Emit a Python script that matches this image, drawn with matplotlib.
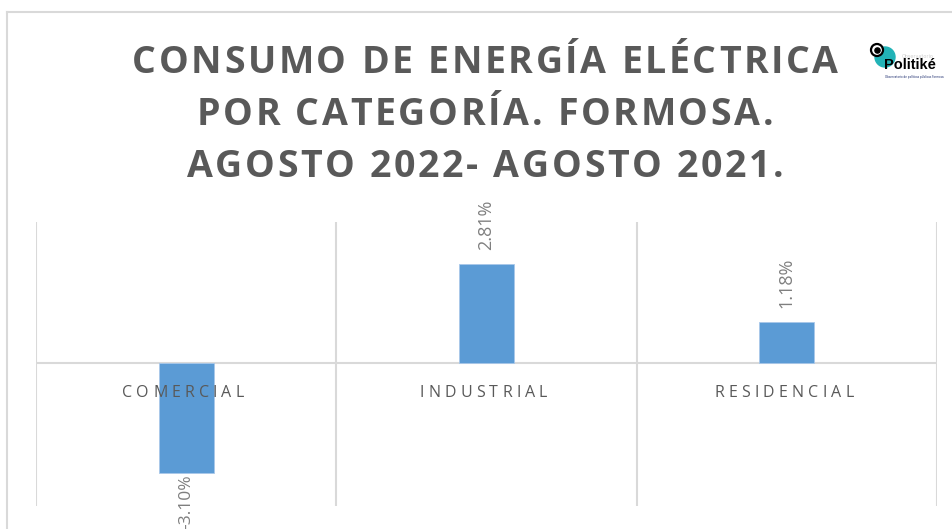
import matplotlib.pyplot as plt
from matplotlib.font_manager import FontProperties, findfont
from matplotlib.ft2font import FT2Font
from matplotlib.patches import Circle
from matplotlib.lines import Line2D

# Data
categories = ["COMERCIAL", "INDUSTRIAL", "RESIDENCIAL"]
values = [-3.10, 2.81, 1.18]
value_labels = ["-3.10%", "2.81%", "1.18%"]
title_lines = ["CONSUMO DE ENERGÍA ELÉCTRICA",
               "POR CATEGORÍA. FORMOSA.",
               "AGOSTO 2022- AGOSTO 2021."]

W, H = 952, 529
fig = plt.figure(figsize=(W / 100, H / 100), dpi=100)
fig.patch.set_facecolor("white")


def advances(s, size, weight="normal", family="Open Sans"):
    fp = FontProperties(family=family, weight=weight)
    font = FT2Font(findfont(fp))
    font.set_size(size, 72)
    return [font.load_char(ord(c)).linearHoriAdvance / 65536 for c in s]


def spaced_text(ax, xy, s, size, spacing, coords, weight="normal",
                color="#595959", family="Open Sans", dy=0):
    """Draw letter-spaced text centred on xy (spacing in points)."""
    adv = advances(s, size, weight, family)
    total = sum(adv) + spacing * (len(s) - 1)
    x0 = -total / 2
    for ch, a in zip(s, adv):
        if ch != " ":
            ax.annotate(ch, xy=xy, xycoords=coords, xytext=(x0, dy),
                        textcoords="offset points", ha="left", va="center",
                        fontsize=size, fontweight=weight, color=color,
                        family=family, annotation_clip=False)
        x0 += a + spacing


ax = fig.add_axes([36 / W, (H - 506) / H, (937 - 36) / W, (506 - 222) / H])
x = list(range(len(categories)))
ax.bar(x, values, width=0.183, color="#5b9bd5", edgecolor="#a9c8ea",
       linewidth=0.6, zorder=3)
ax.set_xlim(-0.5, len(categories) - 0.5)
ax.set_ylim(-4.03, 4.0)
ax.axhline(0, color="#d9d9d9", linewidth=1.5, zorder=2)
for gx in [-0.5, 0.5, 1.5, 2.5]:
    ax.axvline(gx, color="#d9d9d9", linewidth=1.5, zorder=1)
for s in ax.spines.values():
    s.set_visible(False)
ax.set_xticks([])
ax.set_yticks([])

for i, (v, lab) in enumerate(zip(values, value_labels)):
    if v >= 0:
        ax.annotate(lab, xy=(i, v), xytext=(0, 10), textcoords="offset points",
                    ha="center", va="bottom", rotation=90, fontsize=13,
                    color="#7f7f7f", family="Open Sans", annotation_clip=False)
    else:
        ax.annotate(lab, xy=(i, v), xytext=(0, -1), textcoords="offset points",
                    ha="center", va="top", rotation=90, fontsize=12.5,
                    color="#7f7f7f", family="Open Sans", annotation_clip=False)
    spaced_text(ax, (i - 0.01, 0), categories[i], 11.5, 3.0, "data", dy=-21)

# Title
for k, line in enumerate(title_lines):
    spaced_text(ax, (485, H - (63 + 52 * k)), line, 27, 1.9,
                "figure pixels", weight="bold")

# chart border
fig.add_artist(Line2D([7 / W, 1], [(H - 12) / H] * 2, color="#d9d9d9", lw=1.5))
fig.add_artist(Line2D([7 / W] * 2, [0, (H - 12) / H], color="#d9d9d9", lw=1.5))

# logo
lax = fig.add_axes([860 / W, (H - 88) / H, 88 / W, 56 / H])
lax.set_xlim(860, 948)
lax.set_ylim(88, 32)
lax.axis("off")
lax.add_patch(Circle((885, 57), 10, color="#22b3b7"))
lax.add_patch(Circle((877, 50), 6, facecolor="white", edgecolor="black", lw=1.6))
lax.add_patch(Circle((877.5, 50.5), 2.6, color="black"))
lax.text(884, 65, "Politiké", fontsize=10.5, fontweight="bold", color="black",
         family="Liberation Sans", va="center", ha="left")
lax.text(902, 56, "Observatorio", fontsize=3.5, color="#d0d0d0", ha="left",
         va="center")
lax.text(885, 77, "Observatorio de políticas públicas Formosa", fontsize=2,
         color="#1a2a6c", ha="left", va="center")

fig.savefig("out.png", dpi=100)
